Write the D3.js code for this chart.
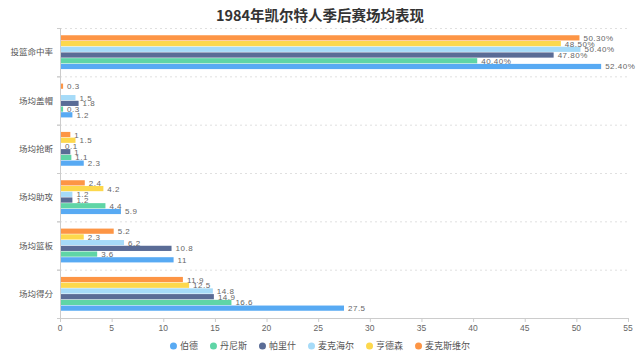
<!DOCTYPE html>
<html>
<head>
<meta charset="utf-8">
<script src="https://cdn.jsdelivr.net/npm/d3@7"></script>
<style>
  html, body { margin: 0; padding: 0; background: #fff; }
  svg { display: block; font-family: "Noto Sans CJK SC", "Noto Sans", sans-serif; }
</style>
</head>
<body>
<svg id="chart" width="640" height="357"></svg>
<script>
const title = "1984年凯尔特人季后赛场均表现";
const categories = ["场均得分", "场均篮板", "场均助攻", "场均抢断", "场均盖帽", "投篮命中率"];
const seriesNames = ["伯德", "丹尼斯", "帕里什", "麦克海尔", "亨德森", "麦克斯维尔"];
const colors = ["#58aaf3", "#5fd5a6", "#5a6c96", "#a6dbf8", "#fdd84c", "#fd9545"];
// values per series, in category order above (null = no bar)
const birdValues      = [27.5, 11, 5.9, 2.3, 1.2, 52.4];
const dennisValues    = [16.6, 3.6, 4.4, 1.1, 0.3, 40.4];
const parishValues    = [14.9, 10.8, 1.2, 1, 1.8, 47.8];
const mchaleValues    = [14.8, 6.2, 1.2, 0.1, 1.5, 50.4];
const hendersonValues = [12.5, 2.3, 4.2, 1.5, null, 48.5];
const maxwellValues   = [11.9, 5.2, 2.4, 1, 0.3, 50.3];
const seriesValues = [birdValues, dennisValues, parishValues, mchaleValues, hendersonValues, maxwellValues];
const xTicks = [0, 5, 10, 15, 20, 25, 30, 35, 40, 45, 50, 55];

(function () {
const svg = d3.select("#chart");
const L = 60, R = 628, T = 28, B = 318;

const x = d3.scaleLinear().domain([0, 55]).range([L, R]);
// categories from bottom to top
const y = d3.scaleBand().domain(categories).range([B, T]);
const bw = y.bandwidth();
const avail = bw * 0.7;
const barW = avail / 6.5;
const step = barW * 1.1;

// title
svg.append("text").attr("x", 320).attr("y", 21).attr("text-anchor", "middle")
  .attr("font-size", 14.5).attr("font-weight", "bold").attr("fill", "#333").text(title);

// split lines (dashed)
categories.forEach(c => {
  const yy = y(c);
  if (yy < B - 1) {
    svg.append("line").attr("x1", L).attr("x2", R).attr("y1", yy + 0.5).attr("y2", yy + 0.5)
      .attr("stroke", "#e0e0e0").attr("stroke-dasharray", "2,3");
  }
});

// bars
seriesValues.forEach((vals, si) => {
  vals.forEach((v, ci) => {
    if (v === null) return;
    const c = categories[ci];
    const center = y(c) + bw / 2;
    const yTop = center + avail / 2 - (si * step) - barW;
    svg.append("rect").attr("x", x(0)).attr("y", yTop)
      .attr("width", x(v) - x(0)).attr("height", barW).attr("fill", colors[si]);
    const label = ci === 5 ? v.toFixed(2) + "%" : String(v);
    svg.append("text").attr("x", x(v) + 4).attr("y", yTop + barW / 2 + 3)
      .attr("font-size", 8).attr("fill", "#666").attr("font-family", "Liberation Sans, sans-serif")
      .attr("letter-spacing", 0.5).text(label);
  });
});

// y axis line and ticks
svg.append("line").attr("x1", L + 0.5).attr("x2", L + 0.5).attr("y1", T).attr("y2", B)
  .attr("stroke", "#ccc");
categories.forEach(c => {
  [y(c), y(c) + bw].forEach(yy => {
    svg.append("line").attr("x1", L - 3).attr("x2", L).attr("y1", yy + 0.5).attr("y2", yy + 0.5)
      .attr("stroke", "#ccc");
  });
  svg.append("text").attr("x", L - 7).attr("y", y(c) + bw / 2 + 3).attr("text-anchor", "end")
    .attr("font-size", 8.5).attr("fill", "#555").text(c);
});

// x axis
svg.append("line").attr("x1", L).attr("x2", R).attr("y1", B + 0.5).attr("y2", B + 0.5)
  .attr("stroke", "#ccc");
xTicks.forEach(t => {
  svg.append("line").attr("x1", x(t) + 0.5).attr("x2", x(t) + 0.5).attr("y1", B).attr("y2", B + 4)
    .attr("stroke", "#ccc");
  svg.append("text").attr("x", x(t)).attr("y", B + 13).attr("text-anchor", "middle")
    .attr("font-size", 8.5).attr("fill", "#666").attr("font-family", "Liberation Sans, sans-serif").text(t);
});

// legend
const lg = svg.append("g");
let lx = 0;
seriesNames.forEach((n, i) => {
  const g = lg.append("g").attr("transform", `translate(${lx},0)`);
  g.append("circle").attr("cx", 3.5).attr("cy", 0).attr("r", 3.5).attr("fill", colors[i]);
  const t = g.append("text").attr("x", 10).attr("y", 3.3).attr("font-size", 9).attr("fill", "#555").text(n);
  const w = t.node().getComputedTextLength();
  lx += 10 + w + 12;
});
const totalW = lx - 12;
lg.attr("transform", `translate(${320 - totalW / 2},346)`);
})();
</script>
</body>
</html>
